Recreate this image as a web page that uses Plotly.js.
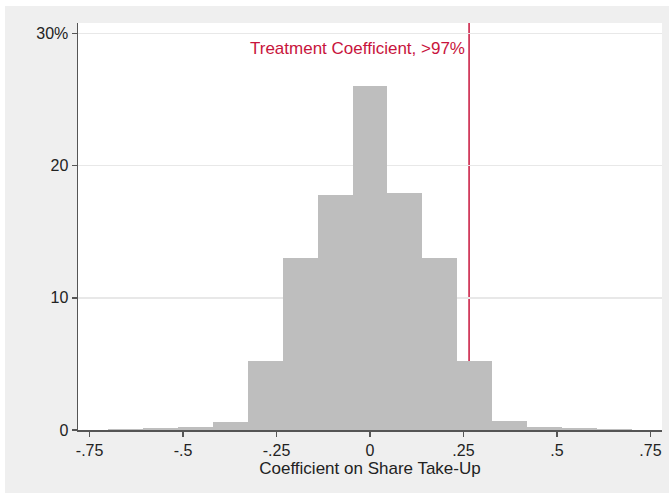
<!DOCTYPE html>
<html>
<head>
<meta charset="utf-8">
<script src="https://cdn.plot.ly/plotly-3.0.1.min.js"></script>
<style>
  html, body { margin: 0; padding: 0; background: #ffffff; width: 669px; height: 493px; overflow: hidden; }
  #chart { position: absolute; left: 5px; top: 6px; width: 664px; height: 487px; }
</style>
</head>
<body>
<div id="chart"></div>
<script>
// Histogram bins (centers) and percentage heights
const binCenters = [-0.654, -0.561, -0.467, -0.374, -0.280, -0.187, -0.093, 0, 0.093, 0.187, 0.280, 0.374, 0.467, 0.561, 0.654];
const percents   = [0.08, 0.12, 0.25, 0.6, 5.2, 13.0, 17.8, 26.0, 17.9, 13.0, 5.2, 0.65, 0.25, 0.15, 0.08];
const binWidth = 0.0935;

const treatmentCoef = 0.265;
const treatmentLabel = "Treatment Coefficient, >97%";

const xTickVals = [-0.75, -0.5, -0.25, 0, 0.25, 0.5, 0.75];
const xTickText = ["-.75", "-.5", "-.25", "0", ".25", ".5", ".75"];
const yTickVals = [0, 10, 20, 30];
const yTickText = ["0", "10", "20", "30%"];

const fontFam = '"Liberation Sans", Arial, sans-serif';
const axisCol = '#555555';

const trace = {
  type: 'bar',
  x: binCenters,
  y: percents,
  width: binCenters.map(() => binWidth),
  marker: { color: '#bebebe', line: { width: 0 } },
  hoverinfo: 'skip'
};

const layout = {
  width: 664,
  height: 487,
  margin: { l: 73, r: 7, t: 17, b: 63 },
  paper_bgcolor: '#efefef',
  plot_bgcolor: '#ffffff',
  showlegend: false,
  bargap: 0,
  font: { family: fontFam, size: 16, color: '#222222' },
  xaxis: {
    range: [-0.781, 0.781],
    tickvals: xTickVals,
    ticktext: xTickText,
    ticks: 'outside', ticklen: 5, tickwidth: 1.5, tickcolor: axisCol,
    showline: true, linecolor: axisCol, linewidth: 1.5,
    showgrid: false, zeroline: false,
    tickfont: { family: fontFam, size: 16, color: '#222222' },
    title: { text: 'Coefficient on Share Take-Up', standoff: 4, font: { family: fontFam, size: 17, color: '#222222' } }
  },
  yaxis: {
    range: [0, 30.8],
    tickvals: yTickVals,
    ticktext: yTickText,
    ticks: 'outside', ticklen: 5, tickwidth: 1.5, tickcolor: axisCol,
    showline: true, linecolor: axisCol, linewidth: 1.5,
    showgrid: true, gridcolor: '#e8e8e8', gridwidth: 1.5,
    zeroline: false,
    tickfont: { family: fontFam, size: 16, color: '#222222' }
  },
  shapes: [{
    type: 'line', layer: 'below',
    xref: 'x', yref: 'paper',
    x0: treatmentCoef, x1: treatmentCoef, y0: 0, y1: 1,
    line: { color: '#c8143c', width: 1.5 }
  }],
  annotations: [{
    xref: 'x', yref: 'y',
    x: treatmentCoef, y: 28.9,
    xanchor: 'right', yanchor: 'middle',
    xshift: -2,
    showarrow: false,
    text: treatmentLabel,
    font: { family: fontFam, size: 17, color: '#c8143c' }
  }]
};

Plotly.newPlot('chart', [trace], layout, { displayModeBar: false, staticPlot: true });
</script>
</body>
</html>
